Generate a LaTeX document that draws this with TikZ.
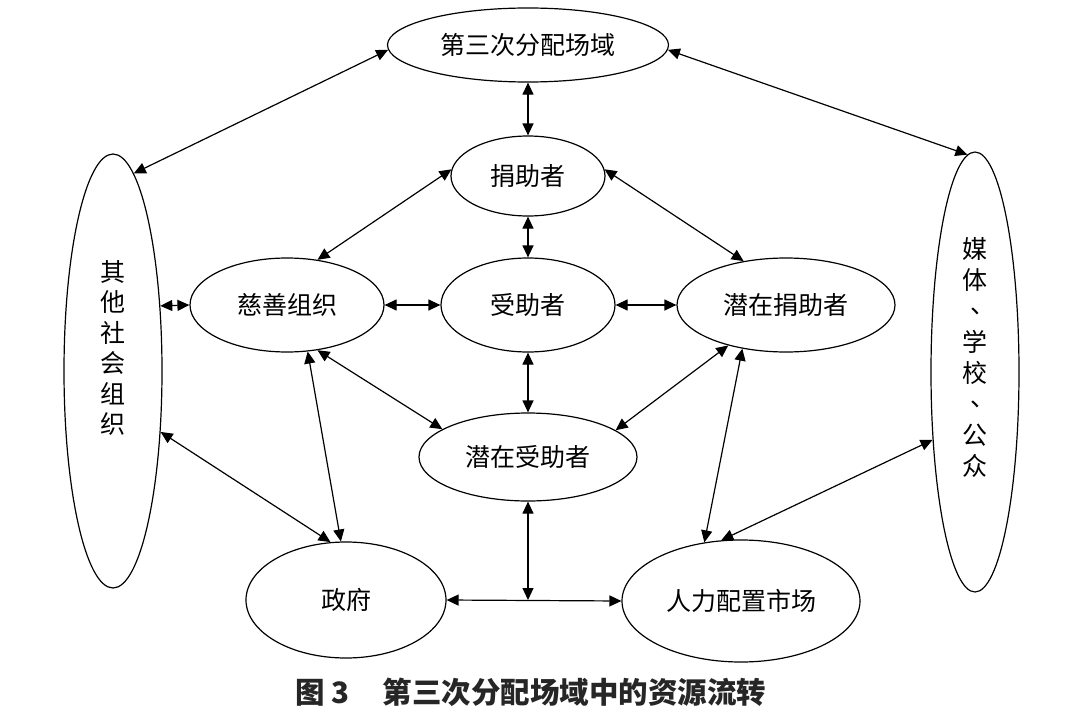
\documentclass[tikz,border=0pt]{standalone}
\usepackage{fontspec}
\newfontfamily\cjk{Noto Sans CJK SC}
\usetikzlibrary{shapes.geometric,arrows.meta}
\newcommand\vcomma{\makebox[1em][l]{\hspace{0.32em}\raisebox{0.28em}{、}}}
\tikzset{
  oval/.style={ellipse, draw, line width=1.2pt, inner sep=0pt, font=\cjk\fontsize{25}{29}\selectfont},
  link/.style={line width=1.2pt, {Triangle[length=12pt,width=11pt]}-{Triangle[length=12pt,width=11pt]}},
  vtext/.style={align=center, inner sep=0pt, font=\cjk\fontsize{25}{30.5}\selectfont},
  vtextb/.style={align=center, inner sep=0pt, font=\cjk\fontsize{25}{31}\selectfont},
  caption/.style={inner sep=0pt, text=black!85, font=\cjk\bfseries\fontsize{29.5}{33}\selectfont},
}
\begin{document}
\begin{tikzpicture}[x=1pt,y=-1pt]
\useasboundingbox (0,0) rectangle (1080,723);
% nodes
\node[oval, minimum width=281pt, minimum height=74pt] (F) at (528,45) {第三次分配场域};
\node[oval, minimum width=154pt, minimum height=80pt] (D) at (528,176) {捐助者};
\node[oval, minimum width=174pt, minimum height=94pt] (R) at (528,305) {受助者};
\node[oval, minimum width=194pt, minimum height=94pt] (C) at (287,305) {慈善组织};
\node[oval, minimum width=218pt, minimum height=94pt] (P) at (786,305) {潜在捐助者};
\node[oval, minimum width=218pt, minimum height=88pt] (Q) at (528,457) {潜在受助者};
\node[oval, minimum width=98pt, minimum height=434pt] (L) at (113,371) {};
\node[oval, minimum width=88pt, minimum height=440pt] (M) at (975,372) {};
\node[oval, minimum width=200pt, minimum height=116pt] (G) at (346,600) {政府};
\node[oval, minimum width=238pt, minimum height=122pt] (H) at (741,601) {人力配置市场};
\node[vtext] (Lt) at (113,348) {其\\他\\社\\会\\组\\织};
\node[vtextb] (Mt) at (975,357) {媒\\体\\\vcomma\\学\\校\\\vcomma\\公\\众};
\node[caption] (cap) at (531,692) {图 3\hspace{33pt}第三次分配场域中的资源流转};
% connectors
\draw[link] (F.182) -- (L.84);
\draw[link] (F.-2) -- (M.92);
\draw[link] (F.south) -- (D.north);
\draw[link] (D.175) -- (C.56);
\draw[link] (D.5) -- (P.134);
\draw[link] (D.south) -- (R.north);
\draw[link] (L.54.7) -- (C.west);
\draw[link] (C.east) -- (R.west);
\draw[link] (R.east) -- (P.west);
\draw[link] (R.south) -- (Q.north);
\draw[link] (C.-56) -- (Q.162);
\draw[link] (P.215) -- (Q.17);
\draw[link] (C.-66) -- (G.95);
\draw[link] (P.225) -- (H.122);
\draw[link] (L.-52) -- (G.105);
\draw[link] (M.238) -- (H.108);
\draw[link] (G.east) -- (H.west);
\coordinate (m) at (Q.south |- G.east);
\draw[link] (Q.south) -- (m);
\end{tikzpicture}
\end{document}
